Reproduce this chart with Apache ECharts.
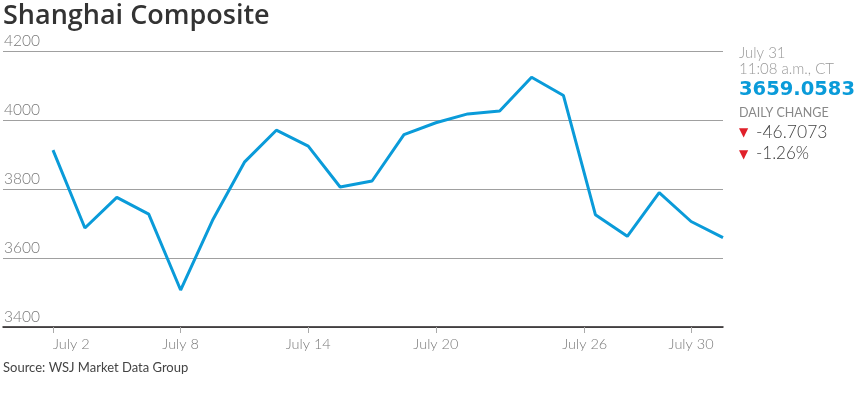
<!DOCTYPE html>
<html><head><meta charset="utf-8">
<script src="https://cdn.jsdelivr.net/npm/echarts@6/dist/echarts.min.js"></script>
<style>html,body{margin:0;padding:0;background:#fff}#c{width:857px;height:395px}</style>
</head><body><div id="c"></div>
<script>
// Trading days (July 2015)
const tradingDays = [2,3,6,7,8,9,10,13,14,15,16,17,20,21,22,23,24,27,28,29,30,31];
const closeValues = [3912.77,3686.92,3775.91,3727.12,3507.19,3709.33,3877.80,3970.39,3924.49,3805.70,3823.18,3957.35,3992.11,4017.67,4026.04,4123.92,4070.91,3725.56,3663.00,3789.17,3705.77,3659.06];
const tickDays = [2,8,14,20,26,30];
const tickLabels = ['July 2','July 8','July 14','July 20','July 26','July 30'];
const yTicks = [3400,3600,3800,4000,4200];

function dayToIndex(d){
  for(let i=0;i<tradingDays.length-1;i++){
    const a=tradingDays[i], b=tradingDays[i+1];
    if(d>=a && d<=b) return i + (d-a)/(b-a);
  }
  return tradingDays.length-1;
}
const tickPos = tickDays.map(dayToIndex);
const data = closeValues.map((v,i)=>[i,v]);

const chart = echarts.init(document.getElementById('c'));
const FONT = 'Lato';
chart.setOption({
  animation:false,
  grid:{left:3,right:134,top:51,bottom:68,containLabel:false},
  xAxis:{
    type:'value', min:-1.567, max:21,
    splitLine:{show:false},
    axisLine:{show:true,lineStyle:{color:'#231f20',width:1.5}},
    axisTick:{show:true,length:6,lineStyle:{color:'#aaa'},customValues:tickPos},
    axisLabel:{customValues:tickPos,margin:10,color:'#7a7a7a',fontSize:14.5,fontFamily:FONT,fontWeight:300,
      alignMinLabel:'left',
      formatter:function(v){const k=tickPos.findIndex(p=>Math.abs(p-v)<1e-6);return k>=0?tickLabels[k]:'';}}
  },
  yAxis:{
    type:'value', min:yTicks[0], max:yTicks[yTicks.length-1], interval:200,
    axisLine:{show:false}, axisTick:{show:false},
    splitLine:{show:true,lineStyle:{color:'#a0a0a0',width:1}},
    axisLabel:{inside:true,margin:1,verticalAlign:'bottom',padding:[0,0,2,0],color:'#7a7a7a',fontSize:15.5,fontFamily:FONT,fontWeight:300,
      formatter:function(v){return String(v);}}
  },
  series:[{type:'line',data:data,symbol:'none',lineStyle:{color:'#0a9bd9',width:3},itemStyle:{color:'#0a9bd9'},z:3}],
  graphic:[
    {type:'text',left:3,top:3,style:{text:'Shanghai Composite',font:'600 27px "Open Sans"',fill:'#333'}},
    {type:'text',left:739,top:46,style:{text:'July 31',font:'300 15px '+FONT,fill:'#999'}},
    {type:'text',left:739,top:62,style:{text:'11:08 a.m., CT',font:'300 15px '+FONT,fill:'#999'}},
    {type:'text',left:739,top:80,style:{text:'3659.0583',font:'bold 19.5px "DejaVu Sans"',fill:'#0a9bd9'}},
    {type:'text',left:739,top:106,style:{text:'DAILY CHANGE',font:'12.5px '+FONT,fill:'#888'}},
    {type:'text',left:739,top:127,style:{text:'▼',font:'12px "DejaVu Sans"',fill:'#e0202a'}},
    {type:'text',left:756,top:123,style:{text:'-46.7073',font:'300 17.5px '+FONT,fill:'#444'}},
    {type:'text',left:739,top:149,style:{text:'▼',font:'12px "DejaVu Sans"',fill:'#e0202a'}},
    {type:'text',left:756,top:145,style:{text:'-1.26%',font:'300 17px '+FONT,fill:'#444'}},
    {type:'text',left:3,top:361,style:{text:'Source: WSJ Market Data Group',font:'13px '+FONT,fill:'#444'}}
  ]
});
</script></body></html>
